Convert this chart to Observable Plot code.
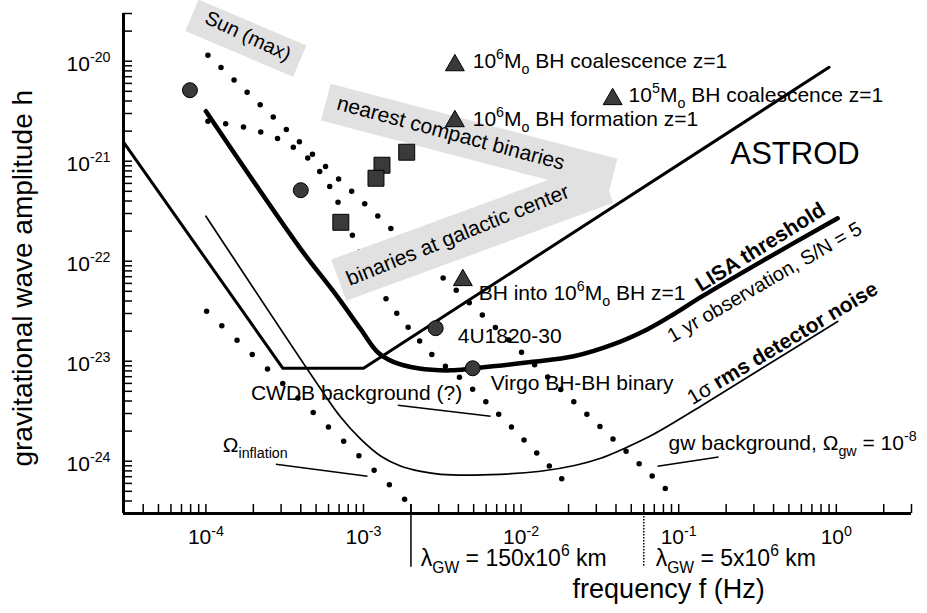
<!DOCTYPE html>
<html><head><meta charset="utf-8">
<script src="https://cdn.jsdelivr.net/npm/d3@7"></script>
<script src="https://cdn.jsdelivr.net/npm/@observablehq/plot@0.6"></script>
<style>
html,body{margin:0;padding:0;background:#fff;}
#chart{width:927px;height:613px;overflow:hidden}
</style></head><body><div id="chart"></div>
<script>
// ---------------- data ----------------
// LISA threshold (1 yr observation, S/N = 5)
const lisaF = [1e-4, 4.0e-4, 6.5e-4, 9.6e-4, 1.23e-3, 1.56e-3, 2.21e-3, 3.58e-3, 5.0e-3, 1.15e-2, 2.16e-2, 3.87e-2, 6.35e-2, 9.3e-2, 0.138, 0.33, 1.02];
const lisaH = [3.16e-21, 1.32e-22, 4.9e-23, 2.09e-23, 1.23e-23, 9.8e-24, 8.5e-24, 8.1e-24, 8.5e-24, 9.8e-24, 1.12e-23, 1.48e-23, 2.09e-23, 2.95e-23, 4.37e-23, 9.8e-23, 2.69e-22];
// 1 sigma rms detector noise
const noiseF = [1e-4, 5.21e-4, 7.18e-4, 9.6e-4, 1.29e-3, 1.73e-3, 2.31e-3, 3.09e-3, 7.4e-3, 1.33e-2, 2.22e-2, 3.2e-2, 4.41e-2, 6.93e-2, 0.138, 0.33, 1.02];
const noiseH = [2.82e-22, 5.62e-24, 2.75e-24, 1.66e-24, 1.12e-24, 8.9e-25, 7.9e-25, 7.4e-25, 7.4e-25, 7.94e-25, 9.12e-25, 1.07e-24, 1.32e-24, 1.86e-24, 3.55e-24, 8.3e-24, 2.5e-23];
// ASTROD
const astrodF = [3e-5, 3.08e-4, 1e-3, 0.9];
const astrodH = [1.55e-21, 8.5e-24, 8.5e-24, 8.7e-21];
// dotted source curves
const sunLineF = [1.03e-4, 9.55e-2];
const sunLineH = [1.15e-20, 4.27e-25];
const lowLineF = [1.01e-4, 1.94e-3];
const lowLineH = [3.16e-23, 3.8e-25];
const galLineF = [1.03e-4, 1.74e-4, 2.9e-4, 4.5e-4, 6.2e-4, 7.72e-4, 9.48e-4, 1.15e-3, 1.41e-3, 1.94e-3, 2.79e-3, 4.2e-3, 7.53e-3, 1.95e-2];
const galLineH = [2.51e-21, 2.19e-21, 1.66e-21, 1.05e-21, 5.37e-22, 2.57e-22, 1.23e-22, 6.76e-23, 4.07e-23, 2.14e-23, 1.12e-23, 6.6e-24, 2.75e-24, 5.9e-25];
// point sources
const circleF = [7.92e-5, 4.0e-4, 2.87e-3, 4.93e-3];
const circleH = [5.13e-21, 5.13e-22, 2.14e-23, 8.5e-24];
const squareF = [1.88e-3, 1.31e-3, 1.2e-3, 7.18e-4];
const squareH = [1.23e-21, 9.12e-22, 6.76e-22, 2.45e-22];
const triangleF = [3.8e-3, 3.8e-3, 3.81e-2, 4.27e-3];
const triangleH = [9.1e-21, 2.51e-21, 4.17e-21, 6.46e-23];
// shaded regions (centre line start / end)
const bandName = ["Sun (max)", "nearest compact binaries", "binaries at galactic center"];
const bandF1 = [8.15e-5, 5.77e-4, 6.97e-4];
const bandH1 = [2.88e-20, 3.89e-21, 6.46e-23];
const bandF2 = [3.94e-4, 3.81e-2, 3.44e-2];
const bandH2 = [1e-20, 6.92e-22, 6.17e-22];
// horizontal labels
const labelText = ["10^{6}M_{o} BH coalescence z=1", "10^{5}M_{o} BH coalescence z=1", "10^{6}M_{o} BH formation z=1", "BH into 10^{6}M_{o} BH z=1", "4U1820-30", "Virgo BH-BH binary", "CWDB background (?)", "Ω_{inflation}", "gw background, Ω_{gw} = 10^{-8}"];
const labelF = [4.93e-3, 4.81e-2, 4.93e-3, 5.38e-3, 3.96e-3, 6.41e-3, 1.93e-4, 1.28e-4, 8.63e-2];
const labelH = [1e-20, 4.57e-21, 2.63e-21, 4.79e-23, 1.78e-23, 6.03e-24, 4.79e-24, 1.45e-24, 1.51e-24];
// pointer lines for labels
const pointerF1 = [1.65e-3, 2.78e-4, 7.34e-2];
const pointerH1 = [3.63e-24, 9.33e-25, 8.9e-25];
const pointerF2 = [6.41e-3, 1.06e-3, 0.179];
const pointerH2 = [2.82e-24, 7.08e-25, 1.1e-24];
// rotated labels
const rotText = ["Sun (max)", "nearest compact binaries", "binaries at galactic center", "!{LISA threshold}", "1 yr observation, S/N = 5", "1σ !{rms detector noise}"];
const rotF = [1.85e-4, 3.58e-3, 3.96e-3, 0.33, 0.351, 0.456];
const rotH = [1.78e-20, 1.91e-21, 1.82e-22, 1.38e-22, 6.17e-23, 1.51e-23];
// ASTROD label
const astrodLabel = {text: "ASTROD", f: 0.213, h: 1.17e-21};
// wavelength markers
const lambdaF = [2e-3, 0.06];
const lambdaText = ["λ_{GW} = 150x10^{6} km", "λ_{GW} = 5x10^{6} km"];
const lambdaLabelF = [2.31e-3, 7.14e-2];
const lambdaTop = 3.7e-25, lambdaBottom = 8.7e-26, lambdaLabelH = 1.07e-25;
// axes
const xTickLabels = [1e-4, 1e-3, 1e-2, 1e-1, 1];
const yTickLabels = [1e-24, 1e-23, 1e-22, 1e-21, 1e-20];
const mantissas = [1, 2, 3, 4, 5, 6, 7, 8, 9];
const xDomain = [3e-5, 3], yDomain = [3e-25, 3e-20];
const xTitle = "frequency f (Hz)", xTitleF = 0.0863, xTitleH = 5.2e-26;
const yTitle = "gravitational wave amplitude h", yTitleF = 6.9e-6, yTitleH = 6.76e-23;

// ---------------- helpers ----------------
const T = (xs, ys) => xs.map((x, i) => ({x, y: ys[i]}));
const minorTicks = (lo, hi, e0, e1) => {
  const out = [];
  for (let e = e0; e <= e1; e++) for (const m of mantissas) {
    const v = m * Math.pow(10, e);
    if (v >= lo * 0.999 && v <= hi * 1.001) out.push(v);
  }
  return out;
};
const xMinor = minorTicks(xDomain[0], xDomain[1], -5, 0);
const yMinor = minorTicks(yDomain[0], yDomain[1], -25, -20);
const expFmt = d => `10^{${Math.round(Math.log10(d))}}`;

const defs = () => {
  const d = d3.create("svg:defs");
  const p = d.append("pattern").attr("id", "stip").attr("patternUnits", "userSpaceOnUse").attr("width", 2).attr("height", 2);
  p.append("rect").attr("width", 2).attr("height", 2).attr("fill", "#fff");
  p.append("rect").attr("x", 0).attr("y", 0).attr("width", 1).attr("height", 1).attr("fill", "#a6a6a6");
  p.append("rect").attr("x", 1).attr("y", 1).attr("width", 1).attr("height", 1).attr("fill", "#dedede");
  return d.node();
};

const bands = T(bandF1, bandH1).map((d, i) => ({x1: d.x, y1: d.y, x2: bandF2[i], y2: bandH2[i], name: bandName[i]}));
const band = (i, w) => Plot.link([bands[i]], {x1: "x1", y1: "y1", x2: "x2", y2: "y2", stroke: "url(#stip)", strokeWidth: w, strokeLinecap: "butt"});
const rotLabel = (i, angle, size) => Plot.text([{t: rotText[i], x: rotF[i], y: rotH[i]}], {x: "x", y: "y", text: "t", rotate: angle, fontSize: size, textAnchor: "middle", lineAnchor: "middle", fill: "black"});

const labels = labelText.map((t, i) => ({t, x: labelF[i], y: labelH[i]}));
const pointers = pointerF1.map((f, i) => ({x1: f, y1: pointerH1[i], x2: pointerF2[i], y2: pointerH2[i]}));
const lambdas = lambdaF.map((f, i) => ({f, t: lambdaText[i], lf: lambdaLabelF[i]}));

const font = "'Liberation Sans', Arial, Helvetica, sans-serif";
const dotted = {x: "x", y: "y", stroke: "black", strokeWidth: 5.5, strokeDasharray: "0 18", strokeLinecap: "round"};
const mark = {x: "x", y: "y", fill: "#3a3a3a", stroke: "#000", strokeWidth: 1};

const chart = Plot.plot({
  width: 927, height: 613,
  marginLeft: 123, marginRight: 16, marginTop: 13, marginBottom: 100,
  x: {type: "log", domain: xDomain},
  y: {type: "log", domain: yDomain},
  style: {fontFamily: font, background: "white", color: "black", overflow: "visible"},
  marks: [
    defs,
    // dotted curves
    Plot.line(T(sunLineF, sunLineH), dotted),
    Plot.line(T(lowLineF, lowLineH), {...dotted, strokeDasharray: "0 21"}),
    Plot.line(T(galLineF, galLineH), {...dotted, curve: "catmull-rom"}),
    // shaded regions
    band(0, 34), band(1, 38), band(2, 44),
    // sensitivity curves
    Plot.line(T(astrodF, astrodH), {x: "x", y: "y", stroke: "black", strokeWidth: 3}),
    Plot.line(T(noiseF, noiseH), {x: "x", y: "y", stroke: "black", strokeWidth: 1.7, curve: "catmull-rom"}),
    Plot.line(T(lisaF, lisaH), {x: "x", y: "y", stroke: "black", strokeWidth: 4.5, curve: "catmull-rom"}),
    // pointer lines
    Plot.link(pointers, {x1: "x1", y1: "y1", x2: "x2", y2: "y2", stroke: "black", strokeWidth: 1.5}),
    // wavelength markers
    Plot.ruleX(lambdas.slice(0, 1), {x: "f", y1: lambdaTop, y2: lambdaBottom, stroke: "black", strokeWidth: 1.5}),
    Plot.ruleX(lambdas.slice(1), {x: "f", y1: lambdaTop, y2: lambdaBottom, stroke: "black", strokeWidth: 1.5, strokeDasharray: "1.5 1.5"}),
    Plot.text(lambdas, {x: "lf", y: () => lambdaLabelH, text: "t", textAnchor: "start", lineAnchor: "middle", fontSize: 23, fill: "black"}),
    // markers
    Plot.dot(T(circleF, circleH), {...mark, r: 7.5}),
    Plot.dot(T(squareF, squareH), {...mark, symbol: "square", r: 9}),
    Plot.dot(T(triangleF, triangleH), {...mark, symbol: "triangle", r: 7}),
    // labels
    Plot.text(labels, {x: "x", y: "y", text: "t", textAnchor: "start", lineAnchor: "middle", fontSize: 21, fill: "black"}),
    Plot.text([astrodLabel], {x: "f", y: "h", text: "text", textAnchor: "start", lineAnchor: "middle", fontSize: 31, fill: "black"}),
    rotLabel(0, 25, 20), rotLabel(1, 15, 21), rotLabel(2, -22, 21),
    rotLabel(3, -32, 21), rotLabel(4, -30, 20), rotLabel(5, -31, 21),
    // axes
    Plot.axisY(yMinor, {anchor: "left", tickSize: 9, dx: 9, tickFormat: () => "", strokeWidth: 1.5, label: null}),
    Plot.axisX(xMinor, {anchor: "bottom", tickSize: 9, dy: -9, tickFormat: () => "", strokeWidth: 1.5, label: null}),
    Plot.axisY(yTickLabels, {anchor: "left", tickSize: 0, tickPadding: 13, dy: 3, tickFormat: expFmt, fontSize: 21, label: null}),
    Plot.axisX(xTickLabels, {anchor: "bottom", tickSize: 0, tickPadding: 16, tickFormat: expFmt, fontSize: 21, label: null}),
    Plot.ruleX([xDomain[0]], {stroke: "black", strokeWidth: 3}),
    Plot.ruleY([yDomain[0]], {stroke: "black", strokeWidth: 3}),
    // titles
    Plot.text([xTitle], {x: () => xTitleF, y: () => xTitleH, text: d => d, textAnchor: "middle", lineAnchor: "middle", fontSize: 27, fill: "black"}),
    Plot.text([yTitle], {x: () => yTitleF, y: () => yTitleH, text: d => d, rotate: -90, textAnchor: "middle", lineAnchor: "middle", fontSize: 28, fill: "black"})
  ]
});

document.getElementById("chart").append(chart);

// turn ^{..} _{..} !{..} markup into real tspans (super/subscript, bold)
function richify(root) {
  const NS = "http://www.w3.org/2000/svg";
  for (const t of root.querySelectorAll("text")) {
    const s = t.textContent;
    if (!/[\^_!]\{/.test(s)) continue;
    const fs = parseFloat(getComputedStyle(t).fontSize) || 16;
    t.textContent = "";
    let shift = 0;
    for (const part of s.split(/([\^_!]\{[^}]*\})/)) {
      if (!part) continue;
      const ts = document.createElementNS(NS, "tspan");
      let target = 0, text = part;
      if (part.startsWith("^{")) { target = -0.42 * fs; ts.setAttribute("font-size", 0.68 * fs); text = part.slice(2, -1); }
      else if (part.startsWith("_{")) { target = 0.3 * fs; ts.setAttribute("font-size", 0.68 * fs); text = part.slice(2, -1); }
      else if (part.startsWith("!{")) { ts.setAttribute("font-weight", "bold"); text = part.slice(2, -1); }
      if (target !== shift) { ts.setAttribute("dy", target - shift); shift = target; }
      ts.textContent = text;
      t.appendChild(ts);
    }
  }
}
richify(chart);
</script>
</body></html>
